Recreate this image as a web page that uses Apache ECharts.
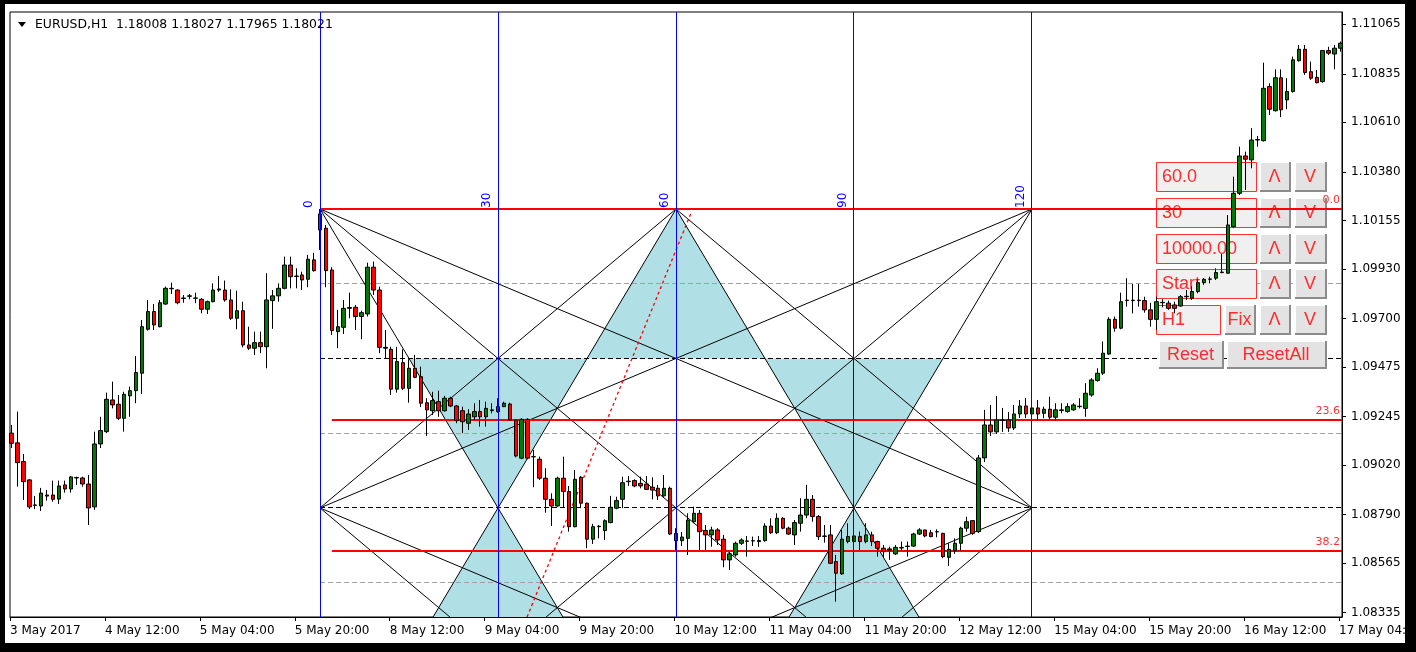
<!DOCTYPE html>
<html>
<head>
<meta charset="utf-8">
<title>EURUSD,H1</title>
<script src="https://cdn.jsdelivr.net/npm/echarts@6/dist/echarts.min.js"></script>
<style>
  html, body { margin: 0; padding: 0; background: #ffffff; }
  #chart { width: 1416px; height: 652px; }
</style>
</head>
<body>
<div id="chart"></div>
<script>
// ---- EURUSD H1 bars, 3 May 2017 20:00 to 17 May 2017 04:00 (one value per hour) ----
const opens = [
  1.09168,1.09123,1.09036,1.08951,1.08835,1.08830,1.08881,1.08881,1.08862,1.08928,1.08909,1.08960,1.08960,1.08932,1.08826,
  1.09118,1.09175,1.09322,1.09302,1.09237,1.09341,1.09365,1.09446,1.09650,1.09732,1.09662,1.09767,1.09840,1.09832,1.09795,
  1.09805,1.09794,1.09789,1.09743,1.09778,1.09832,1.09832,1.09786,1.09701,1.09736,1.09577,1.09562,1.09588,1.09569,1.09783,
  1.09805,1.09840,1.09948,1.09897,1.09902,1.09882,1.09972,1.10185,1.10119,1.09925,1.09639,1.09659,1.09747,1.09752,1.09709,
  1.09721,1.09938,1.09832,1.09562,1.09557,1.09372,1.09495,1.09376,1.09469,1.09430,1.09309,1.09272,1.09314,1.09272,1.09330,
  1.09294,1.09272,1.09214,1.09244,1.09268,1.09244,1.09276,1.09268,1.09291,1.09303,1.09229,1.09052,1.09232,1.09059,1.09047,
  1.08959,1.08861,1.08830,1.08959,1.08897,1.08734,1.08963,1.08843,1.08676,1.08734,1.08716,1.08753,1.08820,1.08861,1.08943,
  1.08948,1.08935,1.08932,1.08917,1.08912,1.08877,1.08912,1.08703,1.08669,1.08680,1.08757,1.08796,1.08716,1.08696,1.08719,
  1.08676,1.08580,1.08603,1.08657,1.08668,1.08668,1.08665,1.08669,1.08737,1.08706,1.08773,1.08727,1.08696,1.08750,1.08788,
  1.08861,1.08781,1.08691,1.08696,1.08572,1.08515,1.08665,1.08665,1.08688,1.08665,1.08696,1.08665,1.08634,1.08631,1.08608,
  1.08635,1.08644,1.08644,1.08700,1.08719,1.08706,1.08711,1.08703,1.08592,1.08623,1.08657,1.08727,1.08762,1.08711,1.09053,
  1.09206,1.09174,1.09229,1.09229,1.09192,1.09257,1.09294,1.09257,1.09285,1.09260,1.09279,1.09242,1.09276,1.09268,1.09276,
  1.09291,1.09283,1.09345,1.09412,1.09446,1.09535,1.09696,1.09655,1.09783,1.09783,1.09783,1.09783,1.09740,1.09696,1.09773,
  1.09771,1.09763,1.09758,1.09801,1.09794,1.09825,1.09866,1.09882,1.09887,1.09913,1.09910,1.10126,1.10281,1.10454,1.10436,
  1.10528,1.10525,1.10776,1.10664,1.10817,1.10714,1.10753,1.10896,1.10949,1.10845,1.10819,1.10799,1.10943,1.10927,1.10954
];
const highs = [
  1.09206,1.09268,1.09071,1.08955,1.08876,1.08914,1.08904,1.08948,1.08948,1.08948,1.08969,1.08966,1.08966,1.08974,1.09175,
  1.09244,1.09356,1.09407,1.09345,1.09360,1.09384,1.09526,1.09693,1.09786,1.09767,1.09786,1.09848,1.09866,1.09835,1.09809,
  1.09814,1.09820,1.09794,1.09783,1.09863,1.09897,1.09876,1.09835,1.09829,1.09778,1.09662,1.09639,1.09639,1.09910,1.09832,
  1.09863,1.09987,1.09987,1.09933,1.09917,1.09995,1.10005,1.10208,1.10134,1.09938,1.09740,1.09786,1.09820,1.09763,1.09736,
  1.09959,1.09964,1.09848,1.09647,1.09569,1.09569,1.09557,1.09511,1.09531,1.09477,1.09330,1.09360,1.09365,1.09341,1.09337,
  1.09299,1.09291,1.09279,1.09307,1.09322,1.09314,1.09307,1.09330,1.09314,1.09309,1.09232,1.09237,1.09237,1.09090,1.09059,
  1.09005,1.08889,1.08966,1.09059,1.08923,1.08997,1.08969,1.08846,1.08747,1.08742,1.08768,1.08877,1.08873,1.08966,1.08969,
  1.08954,1.08966,1.08969,1.08963,1.08928,1.08974,1.08920,1.08727,1.08710,1.08796,1.08827,1.08812,1.08742,1.08734,1.08727,
  1.08696,1.08618,1.08665,1.08680,1.08691,1.08688,1.08691,1.08750,1.08773,1.08796,1.08778,1.08734,1.08765,1.08866,1.08928,
  1.08881,1.08788,1.08742,1.08742,1.08603,1.08719,1.08750,1.08796,1.08711,1.08750,1.08711,1.08669,1.08649,1.08641,1.08649,
  1.08665,1.08665,1.08706,1.08727,1.08719,1.08719,1.08722,1.08706,1.08657,1.08680,1.08734,1.08780,1.08765,1.09067,1.09276,
  1.09299,1.09341,1.09285,1.09266,1.09299,1.09322,1.09331,1.09313,1.09322,1.09291,1.09337,1.09307,1.09307,1.09307,1.09307,
  1.09330,1.09400,1.09423,1.09469,1.09593,1.09706,1.09709,1.09820,1.09887,1.09860,1.09860,1.09801,1.09773,1.09801,1.09789,
  1.09783,1.09778,1.09809,1.09832,1.09848,1.09882,1.09887,1.09894,1.09933,1.09999,1.10180,1.10358,1.10497,1.10474,1.10583,
  1.10547,1.10887,1.10791,1.10856,1.10856,1.10815,1.10915,1.10969,1.10969,1.10892,1.10853,1.10946,1.10961,1.10969,1.10985
];
const lows = [
  1.09099,1.08920,1.08858,1.08816,1.08816,1.08807,1.08855,1.08850,1.08839,1.08892,1.08892,1.08928,1.08920,1.08742,1.08812,
  1.09099,1.09168,1.09283,1.09229,1.09175,1.09244,1.09307,1.09350,1.09644,1.09647,1.09659,1.09763,1.09814,1.09766,1.09773,
  1.09789,1.09771,1.09724,1.09721,1.09775,1.09824,1.09778,1.09693,1.09650,1.09566,1.09554,1.09531,1.09539,1.09469,1.09652,
  1.09778,1.09835,1.09840,1.09840,1.09832,1.09845,1.09917,1.10018,1.09845,1.09624,1.09562,1.09628,1.09701,1.09647,1.09604,
  1.09709,1.09809,1.09539,1.09515,1.09345,1.09356,1.09368,1.09309,1.09423,1.09289,1.09155,1.09252,1.09244,1.09268,1.09289,
  1.09214,1.09168,1.09183,1.09229,1.09198,1.09198,1.09260,1.09263,1.09289,1.09226,1.09056,1.09047,1.09047,1.08917,1.08951,
  1.08799,1.08737,1.08827,1.08824,1.08711,1.08731,1.08820,1.08634,1.08654,1.08680,1.08672,1.08750,1.08815,1.08820,1.08923,
  1.08917,1.08912,1.08904,1.08861,1.08858,1.08873,1.08696,1.08626,1.08644,1.08603,1.08750,1.08626,1.08626,1.08641,1.08649,
  1.08546,1.08533,1.08595,1.08649,1.08595,1.08644,1.08641,1.08665,1.08700,1.08700,1.08722,1.08696,1.08649,1.08711,1.08773,
  1.08757,1.08672,1.08660,1.08561,1.08386,1.08510,1.08657,1.08641,1.08626,1.08657,1.08644,1.08595,1.08588,1.08580,1.08603,
  1.08626,1.08595,1.08641,1.08696,1.08685,1.08685,1.08685,1.08588,1.08552,1.08608,1.08623,1.08711,1.08696,1.08705,1.09034,
  1.09155,1.09164,1.09174,1.09174,1.09183,1.09238,1.09238,1.09229,1.09225,1.09237,1.09229,1.09226,1.09260,1.09263,1.09272,
  1.09283,1.09244,1.09337,1.09407,1.09438,1.09531,1.09639,1.09650,1.09755,1.09724,1.09755,1.09727,1.09662,1.09647,1.09752,
  1.09740,1.09724,1.09755,1.09786,1.09786,1.09817,1.09856,1.09863,1.09879,1.09910,1.09907,1.10119,1.10273,1.10296,1.10397,
  1.10497,1.10521,1.10644,1.10660,1.10634,1.10671,1.10748,1.10892,1.10830,1.10807,1.10791,1.10794,1.10923,1.10856,1.10938
];
const closes = [
  1.09121,1.09031,1.08943,1.08826,1.08833,1.08890,1.08876,1.08861,1.08923,1.08909,1.08965,1.08962,1.08932,1.08821,1.09118,
  1.09180,1.09325,1.09299,1.09237,1.09348,1.09365,1.09449,1.09662,1.09732,1.09670,1.09773,1.09840,1.09838,1.09773,1.09793,
  1.09803,1.09795,1.09743,1.09778,1.09832,1.09837,1.09786,1.09701,1.09736,1.09577,1.09562,1.09588,1.09569,1.09786,1.09805,
  1.09840,1.09948,1.09894,1.09895,1.09879,1.09975,1.09922,1.10111,1.09922,1.09644,1.09662,1.09747,1.09751,1.09709,1.09727,
  1.09938,1.09832,1.09566,1.09566,1.09372,1.09500,1.09376,1.09469,1.09427,1.09307,1.09276,1.09319,1.09272,1.09330,1.09294,
  1.09226,1.09221,1.09257,1.09268,1.09244,1.09283,1.09273,1.09291,1.09307,1.09229,1.09062,1.09232,1.09052,1.09058,1.08959,
  1.08861,1.08830,1.08959,1.08897,1.08734,1.08954,1.08843,1.08676,1.08734,1.08736,1.08762,1.08824,1.08855,1.08938,1.08945,
  1.08923,1.08923,1.08907,1.08904,1.08877,1.08912,1.08700,1.08669,1.08686,1.08765,1.08796,1.08711,1.08696,1.08719,1.08672,
  1.08580,1.08608,1.08657,1.08672,1.08666,1.08669,1.08670,1.08737,1.08706,1.08773,1.08727,1.08700,1.08753,1.08788,1.08861,
  1.08781,1.08688,1.08689,1.08564,1.08518,1.08676,1.08688,1.08691,1.08665,1.08696,1.08665,1.08634,1.08618,1.08626,1.08638,
  1.08637,1.08642,1.08700,1.08719,1.08691,1.08688,1.08710,1.08595,1.08629,1.08657,1.08727,1.08757,1.08703,1.09053,1.09206,
  1.09174,1.09229,1.09227,1.09192,1.09257,1.09294,1.09257,1.09285,1.09257,1.09279,1.09242,1.09276,1.09273,1.09291,1.09299,
  1.09293,1.09353,1.09415,1.09446,1.09539,1.09696,1.09655,1.09778,1.09785,1.09785,1.09785,1.09740,1.09696,1.09778,1.09775,
  1.09747,1.09747,1.09801,1.09803,1.09825,1.09866,1.09882,1.09883,1.09913,1.09915,1.10134,1.10281,1.10454,1.10439,1.10528,
  1.10530,1.10768,1.10671,1.10817,1.10668,1.10753,1.10900,1.10949,1.10841,1.10815,1.10794,1.10943,1.10931,1.10954,1.10977
];

// time scale labels, one every 16 bars starting at bar 0
const timeLabels = ['3 May 2017', '4 May 12:00', '5 May 04:00', '5 May 20:00', '8 May 12:00', '9 May 04:00',
  '9 May 20:00', '10 May 12:00', '11 May 04:00', '11 May 20:00', '12 May 12:00', '15 May 04:00',
  '15 May 20:00', '16 May 12:00', '17 May 04:00'];
const barsPerLabel = 16;

// price scale labels
const priceTicks = [1.11065, 1.10835, 1.10610, 1.10380, 1.10155, 1.09930, 1.09700,
  1.09475, 1.09245, 1.09020, 1.08790, 1.08565, 1.08335];

// Gann time cycles (bar index of each vertical) and their captions
const cycleBars = [52, 82, 112, 142, 172];
const cycleLabels = ['0', '30', '60', '90', '120'];
// Gann box price frame: top = swing high, base = lower edge of the box
const gannTop = 1.10208;
const gannBase = 1.08821;
// quarter levels of the box (dashed) and their tone
const quarterLevels = [1.09861, 1.09515, 1.09168, 1.08821, 1.08474];
const quarterTones = ['grey', 'black', 'grey', 'black', 'grey'];

// Fibonacci retracement from the swing high
const fibHigh = 1.10208;
const fibLow = 1.06060;
const fibRatios = [0.0, 23.6, 38.2];
const fibStartBars = [52, 54, 54];

// red dotted trend line
const trendFrom = [86.9, 1.08315];
const trendTo = [114.6, 1.10194];

// expert panel fields
const panelFields = ['60.0', '30', '10000.00', 'Start'];
const panelTimeframe = 'H1';

// ---------------------------------------------------------------------------
const X_MIN = -0.25, X_MAX = 224.25;
const Y_MIN = 1.08315, Y_MAX = 1.11122;
const FONT = '"DejaVu Sans", sans-serif';
const BTN_FONT = '"Liberation Sans", Arial, sans-serif';

const candles = opens.map((o, i) => [i, o, closes[i], lows[i], highs[i]]);

const gannMid = (gannTop + gannBase) / 2;
const gannBase2 = gannBase - (gannTop - gannBase);
const c = cycleBars;
const half = (a, b) => (a + b) / 2;

// fan lines between lattice points of the box
const gannSegments = [
  [c[0], gannTop, c[2], gannBase2], [c[2], gannTop, c[0], gannBase2],
  [c[2], gannTop, c[4], gannBase2], [c[4], gannTop, c[2], gannBase2],
  [c[0], gannTop, c[4], gannBase2], [c[4], gannTop, c[0], gannBase2],
  [c[2], gannTop, c[0], gannBase],  [c[2], gannTop, c[4], gannBase],
  [c[0], gannTop, c[4], gannBase],  [c[4], gannTop, c[0], gannBase],
  [c[0], gannBase, c[2], gannBase2], [c[0], gannBase, c[4], gannBase2],
  [c[4], gannBase, c[2], gannBase2], [c[4], gannBase, c[0], gannBase2]
];

// shaded triangles between the steep fan lines
const shadeTriangles = [
  [[half(c[1], c[2]), gannMid], [half(c[2], c[3]), gannMid], [c[2], gannTop]],
  [[half(c[0], c[1]), gannMid], [half(c[1], c[2]), gannMid], [c[1], gannBase]],
  [[half(c[2], c[3]), gannMid], [half(c[3], c[4]), gannMid], [c[3], gannBase]],
  [[c[1], gannBase], [c[0], gannBase2], [c[2], gannBase2]],
  [[c[3], gannBase], [c[2], gannBase2], [c[4], gannBase2]]
];

const fibPrice = r => fibHigh - (fibHigh - fibLow) * r / 100;
const crisp = v => Math.round(v - 0.5) + 0.5;

const chart = echarts.init(document.getElementById('chart'), null, { renderer: 'canvas', width: 1416, height: 652 });

// panel widgets (screen-space UI of the expert)
function inputBox(x, y, w, h, text) {
  return [
    { type: 'rect', z: 3, z2: 1, shape: { x: x + 0.5, y: y + 0.5, width: w, height: h },
      style: { fill: '#f0f0f0', stroke: '#ff3030', lineWidth: 1 } },
    { type: 'text', z: 3, z2: 3, x: x + 6, y: y + h / 2 + 1,
      style: { text: text, fill: '#ff2b2b', font: '18px ' + BTN_FONT, align: 'left', verticalAlign: 'middle' } }
  ];
}
function button(x, y, w, h, text) {
  return [
    { type: 'rect', z: 3, z2: 1, shape: { x: x, y: y, width: w, height: h }, style: { fill: '#8c8c8c' } },
    { type: 'rect', z: 3, z2: 1, shape: { x: x, y: y, width: w - 2, height: h - 2 }, style: { fill: '#ffffff' } },
    { type: 'rect', z: 3, z2: 2, shape: { x: x + 1, y: y + 1, width: w - 3, height: h - 3 }, style: { fill: '#e3e3e3' } },
    { type: 'text', z: 3, z2: 3, x: x + w / 2 - 1, y: y + h / 2,
      style: { text: text, fill: '#ff2b2b', font: '18px ' + BTN_FONT, align: 'center', verticalAlign: 'middle' } }
  ];
}
const rowTops = [162, 198, 234, 269, 305];
const rowH = 29;
let panel = [];
panelFields.forEach((t, k) => {
  panel = panel.concat(inputBox(1156, rowTops[k], 100, rowH, t));
  panel = panel.concat(button(1260, rowTops[k], 31, rowH + 1, 'Λ'));
  panel = panel.concat(button(1295, rowTops[k], 32, rowH + 1, 'V'));
});
panel = panel.concat(inputBox(1156, rowTops[4], 64, rowH, panelTimeframe));
panel = panel.concat(button(1225, rowTops[4], 31, rowH + 1, 'Fix'));
panel = panel.concat(button(1260, rowTops[4], 31, rowH + 1, 'Λ'));
panel = panel.concat(button(1295, rowTops[4], 32, rowH + 1, 'V'));
panel = panel.concat(button(1159, 341, 65, 28, 'Reset'));
panel = panel.concat(button(1227, 341, 100, 28, 'ResetAll'));

// window frame and symbol caption
const frame = [
  { type: 'rect', z: 30, shape: { x: 0, y: 0, width: 1416, height: 4 }, style: { fill: '#000' } },
  { type: 'rect', z: 30, shape: { x: 0, y: 0, width: 5, height: 652 }, style: { fill: '#000' } },
  { type: 'rect', z: 30, shape: { x: 1405, y: 0, width: 11, height: 652 }, style: { fill: '#000' } },
  { type: 'rect', z: 30, shape: { x: 0, y: 643, width: 1416, height: 9 }, style: { fill: '#000' } },
  { type: 'polygon', z: 30, shape: { points: [[18, 22], [26, 22], [22, 27]] }, style: { fill: '#000' } },
  { type: 'text', z: 30, x: 35, y: 25,
    style: { text: 'EURUSD,H1  1.18008 1.18027 1.17965 1.18021', fill: '#000', font: '12.4px ' + FONT,
      align: 'left', verticalAlign: 'middle' } }
];

const option = {
  animation: false,
  backgroundColor: '#ffffff',
  grid: { left: 10, top: 12, width: 1332, height: 605, show: true, borderColor: '#000', borderWidth: 1,
    backgroundColor: '#fff', containLabel: false, outerBoundsMode: 'none' },
  xAxis: {
    type: 'value', min: X_MIN, max: X_MAX,
    axisLine: { show: true, onZero: false, lineStyle: { color: '#000', width: 1 } },
    axisTick: { show: true, length: 4, lineStyle: { color: '#000' },
      customValues: timeLabels.map((_, k) => k * barsPerLabel - 0.25) },
    axisLabel: { show: true, color: '#000', fontFamily: FONT, fontSize: 12, margin: 8, align: 'left',
      hideOverlap: false,
      customValues: timeLabels.map((_, k) => k * barsPerLabel - 0.25),
      formatter: v => timeLabels[Math.round((v + 0.25) / barsPerLabel)] || '' },
    splitLine: { show: false }, minorSplitLine: { show: false }, splitArea: { show: false }
  },
  yAxis: {
    type: 'value', position: 'right', min: Y_MIN, max: Y_MAX, scale: true,
    axisLine: { show: true, onZero: false, lineStyle: { color: '#000', width: 1 } },
    axisTick: { show: true, length: 4, lineStyle: { color: '#000' }, customValues: priceTicks },
    axisLabel: { show: true, color: '#000', fontFamily: FONT, fontSize: 12, margin: 9, align: 'left',
      customValues: priceTicks, formatter: v => v.toFixed(5) },
    splitLine: { show: false }, minorSplitLine: { show: false }, splitArea: { show: false }
  },
  graphic: { elements: panel.concat(frame) },
  series: [
    { // shaded Gann triangles
      type: 'custom', z: 1, clip: true, silent: true,
      data: [[c[2], gannMid]],
      renderItem: (params, api) => ({
        type: 'group',
        children: shadeTriangles.map(tri => ({
          type: 'polygon', shape: { points: tri.map(p => api.coord(p)) },
          style: { fill: '#b0dfe5' }
        }))
      })
    },
    { // dashed quarter levels
      type: 'custom', z: 2, clip: true, silent: true,
      data: [[c[0], gannMid]],
      renderItem: (params, api) => ({
        type: 'group',
        children: quarterLevels.map((p, k) => {
          const a = api.coord([c[0], p]);
          const b = api.coord([X_MAX, p]);
          const y = crisp(a[1]);
          return { type: 'line', shape: { x1: a[0], y1: y, x2: b[0], y2: y },
            style: { stroke: quarterTones[k] === 'black' ? '#000000' : '#a0a0a0', lineWidth: 1, lineDash: [5, 3] } };
        })
      })
    },
    { // Gann fan lines and the dotted trend line
      type: 'custom', z: 4, clip: true, silent: true,
      data: [[c[2], gannMid]],
      renderItem: (params, api) => {
        const children = gannSegments.map(s => {
          const a = api.coord([s[0], s[1]]);
          const b = api.coord([s[2], s[3]]);
          return { type: 'line', shape: { x1: a[0], y1: a[1], x2: b[0], y2: b[1] },
            style: { stroke: '#000000', lineWidth: 1 } };
        });
        const t0 = api.coord(trendFrom);
        const t1 = api.coord(trendTo);
        children.push({ type: 'line', shape: { x1: t0[0], y1: t0[1], x2: t1[0], y2: t1[1] },
          style: { stroke: '#ff0000', lineWidth: 1.3, lineDash: [3, 3] } });
        return { type: 'group', children: children };
      }
    },
    { // Fibonacci levels
      type: 'custom', z: 5, clip: true, silent: true,
      data: [[c[0], fibHigh]],
      renderItem: (params, api) => ({
        type: 'group',
        children: fibRatios.map((r, k) => {
          const a = api.coord([fibStartBars[k], fibPrice(r)]);
          const b = api.coord([X_MAX, fibPrice(r)]);
          const y = Math.round(a[1]) - 1;
          return { type: 'rect', shape: { x: a[0], y: y, width: b[0] - a[0], height: 2 },
            style: { fill: '#ff0000', stroke: null } };
        })
      })
    },
    {
      type: 'candlestick', z: 6,
      barWidth: 4,
      data: candles,
      itemStyle: { color: '#007a00', color0: '#ff0000', borderColor: '#000000', borderColor0: '#000000',
        borderColorDoji: '#000000', borderWidth: 1 }
    },
    { // time-cycle verticals, drawn above the bars
      type: 'custom', z: 20, clip: true, silent: true,
      data: [[c[2], gannMid]],
      renderItem: (params, api) => ({
        type: 'group',
        children: cycleBars.map(bar => {
          const a = api.coord([bar, Y_MAX]);
          const b = api.coord([bar, Y_MIN]);
          return { type: 'rect', shape: { x: Math.round(a[0] - 0.5), y: a[1], width: 1, height: b[1] - a[1] },
            style: { fill: '#0000ff', stroke: null } };
        })
      })
    },
    { // captions: Fibonacci ratios at the right edge, cycle counts above the box
      type: 'custom', z: 21, clip: false, silent: true,
      data: [[c[0], fibHigh]],
      renderItem: (params, api) => {
        const children = fibRatios.map(r => {
          const a = api.coord([X_MAX, fibPrice(r)]);
          return { type: 'text', x: a[0] - 2, y: a[1] - 3,
            style: { text: r.toFixed(1), fill: '#ff3030', font: '11px ' + FONT,
              align: 'right', verticalAlign: 'bottom' } };
        });
        cycleBars.forEach((bar, k) => {
          const a = api.coord([bar, gannTop]);
          children.push({ type: 'text', x: a[0] - 11, y: a[1] - 1, rotation: Math.PI / 2,
            style: { text: cycleLabels[k], fill: '#0000ff', font: '12px ' + FONT,
              align: 'left', verticalAlign: 'middle' } });
        });
        return { type: 'group', children: children };
      }
    }
  ]
};
chart.setOption(option);
</script>
</body>
</html>
